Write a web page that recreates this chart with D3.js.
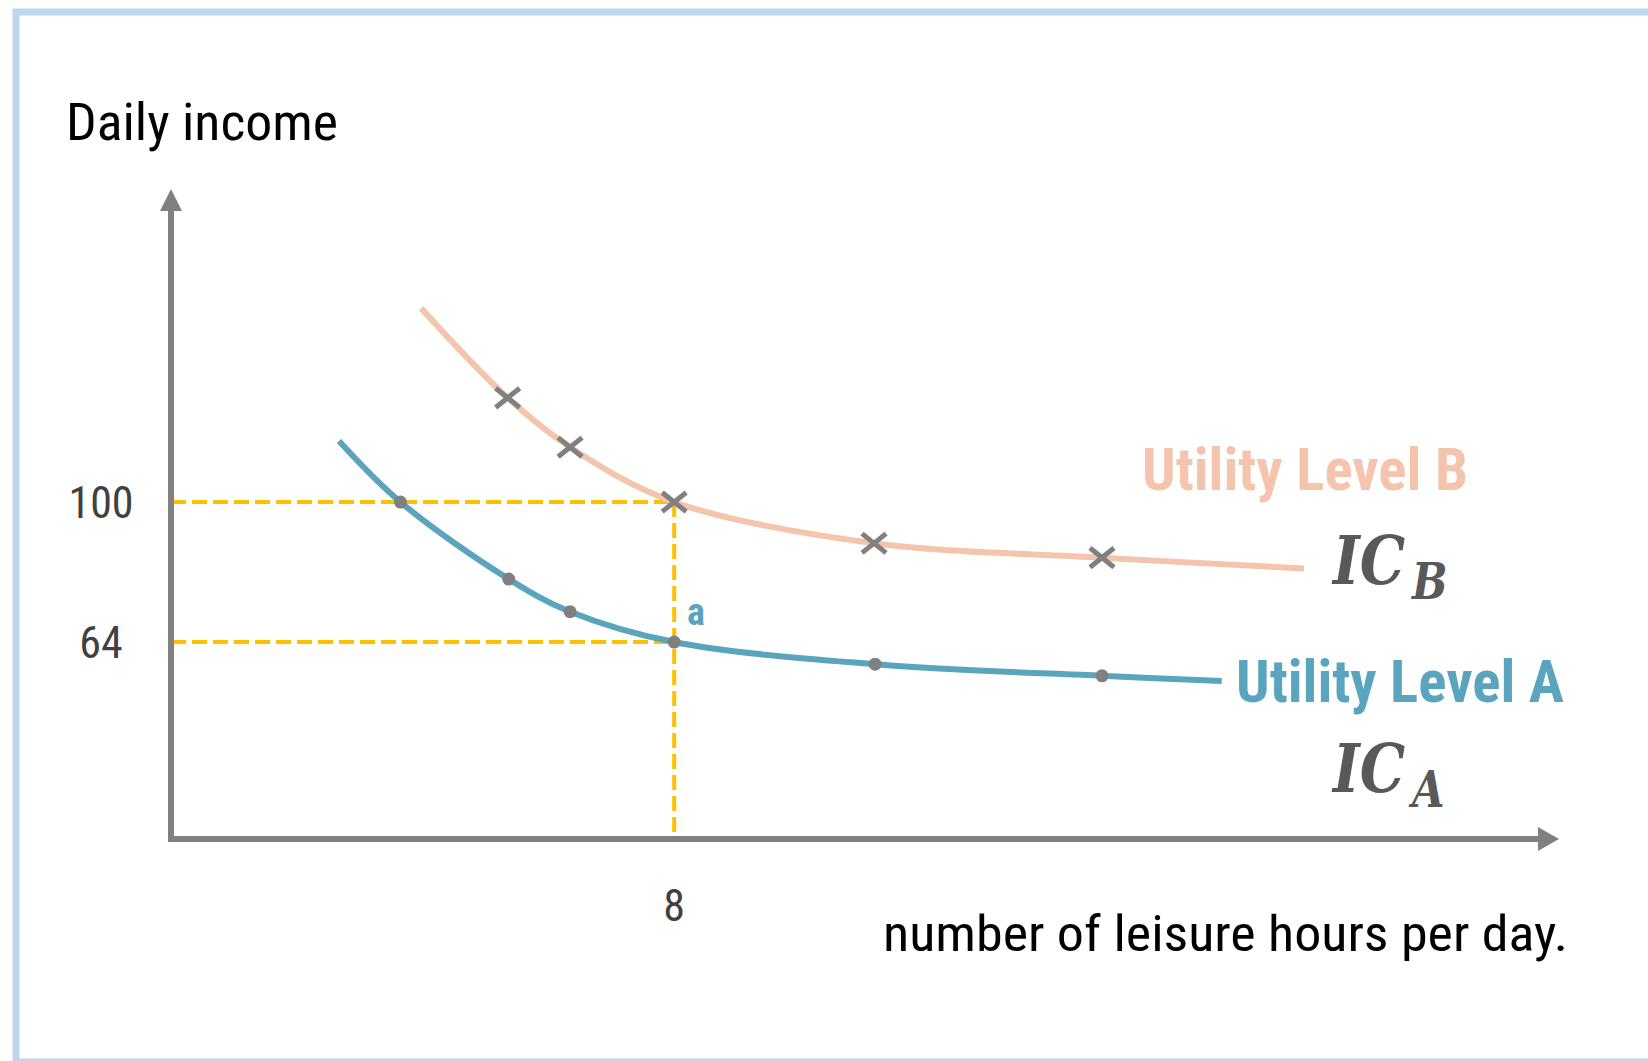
<!DOCTYPE html>
<html>
<head>
<meta charset="utf-8">
<script src="https://cdn.jsdelivr.net/npm/d3@7"></script>
<style>
  html, body { margin: 0; padding: 0; background: #ffffff; }
  svg { display: block; }
</style>
</head>
<body>
<svg id="chart" width="1648" height="1061"></svg>
<script>
// ---------- data ----------
const curveA = [[4.78,115.7],[5.37,100],[6.41,80.2],[7.0,71.8],[8,64],[9.93,58.3],[12.11,55.3],[13.26,54.0]];
const markersA = [[5.37,100],[6.41,80.2],[7.0,71.8],[8,64],[9.93,58.3],[12.11,55.3]];
const curveB = [[5.57,149.8],[6.40,126.8],[7.0,114.1],[8,100],[9.92,89.4],[12.11,85.7],[14.05,82.9]];
const markersB = [[6.40,126.8],[7.0,114.1],[8,100],[9.92,89.4],[12.11,85.7]];
const yTicks = [100, 64];
const xTicks = [8];
const pointA = [8, 64];
const pointB = [8, 100];

// ---------- layout ----------
const svg = d3.select("#chart");
const FONT = "'Liberation Sans Narrow','Roboto Condensed','DejaVu Sans Condensed',Roboto,sans-serif";
const x = d3.scaleLinear().domain([3.166, 16.5]).range([171, 1559]);
const y = d3.scaleLinear().domain([13.35, 180.5]).range([839, 189]);
const axisColor = "#808080";

// frame
svg.append("rect").attr("x", 16).attr("y", 12).attr("width", 1700).attr("height", 1050)
  .attr("fill", "none").attr("stroke", "#bdd7ee").attr("stroke-width", 7);

// dashed guides
const guide = svg.append("g").attr("stroke", "#ffc000").attr("stroke-width", 4)
  .attr("stroke-dasharray", "15,6").attr("fill", "none");
guide.append("line").attr("x1", x.range()[0]).attr("x2", x(pointB[0])).attr("y1", y(pointB[1])).attr("y2", y(pointB[1]));
guide.append("line").attr("x1", x.range()[0]).attr("x2", x(pointA[0])).attr("y1", y(pointA[1])).attr("y2", y(pointA[1]));
guide.append("line").attr("x1", x(pointB[0])).attr("x2", x(pointB[0])).attr("y1", y(pointB[1])).attr("y2", y.range()[0]);

// axes
const x0 = x.range()[0], y0 = y.range()[0];
svg.append("line").attr("x1", x0).attr("x2", x.range()[1] - 18).attr("y1", y0).attr("y2", y0)
  .attr("stroke", axisColor).attr("stroke-width", 6);
svg.append("line").attr("x1", x0).attr("x2", x0).attr("y1", y0 + 3).attr("y2", y.range()[1] + 18)
  .attr("stroke", axisColor).attr("stroke-width", 6);
svg.append("path").attr("fill", axisColor)
  .attr("d", `M${x.range()[1]},${y0} L${x.range()[1]-21},${y0-12} L${x.range()[1]-21},${y0+12} Z`);
svg.append("path").attr("fill", axisColor)
  .attr("d", `M${x0},${y.range()[1]} L${x0-11},${y.range()[1]+22} L${x0+11},${y.range()[1]+22} Z`);

// curves
const line = d3.line().x(d => x(d[0])).y(d => y(d[1])).curve(d3.curveCatmullRom.alpha(0.5));
svg.append("path").datum(curveB).attr("d", line).attr("fill", "none")
  .attr("stroke", "#f4c4ad").attr("stroke-width", 6);
svg.append("path").datum(curveA).attr("d", line).attr("fill", "none")
  .attr("stroke", "#5ba4bd").attr("stroke-width", 6);

// markers
svg.append("g").selectAll("circle").data(markersA).join("circle")
  .attr("cx", d => x(d[0])).attr("cy", d => y(d[1])).attr("r", 6.5).attr("fill", axisColor);
const s = 12;
svg.append("g").selectAll("path").data(markersB).join("path")
  .attr("d", d => { const cx = x(d[0]), cy = y(d[1]);
    return `M${cx-s},${cy-s*0.8} L${cx+s},${cy+s*0.8} M${cx-s},${cy+s*0.8} L${cx+s},${cy-s*0.8}`; })
  .attr("stroke", axisColor).attr("stroke-width", 5).attr("fill", "none");

// tick labels
svg.append("g").selectAll("text").data(yTicks).join("text")
  .attr("x", 101).attr("y", d => y(d) + 16).attr("text-anchor", "middle")
  .attr("font-family", FONT).attr("font-size", 44).attr("fill", "#404040").text(d => d);
svg.append("g").selectAll("text").data(xTicks).join("text")
  .attr("x", d => x(d)).attr("y", 921).attr("text-anchor", "middle")
  .attr("font-family", FONT).attr("font-size", 44).attr("fill", "#404040").text(d => d);

// axis titles
svg.append("text").attr("x", 66).attr("y", 140).attr("font-family", FONT).attr("font-size", 52)
  .attr("fill", "#000").attr("textLength", 272).attr("lengthAdjust", "spacingAndGlyphs").text("Daily income");
svg.append("text").attr("x", 883).attr("y", 951).attr("font-family", FONT).attr("font-size", 50)
  .attr("fill", "#000").attr("textLength", 685).attr("lengthAdjust", "spacingAndGlyphs").text("number of leisure hours per day.");

// point label
svg.append("text").attr("x", 687).attr("y", 625).attr("font-family", FONT).attr("font-size", 38)
  .attr("font-weight", "bold").attr("fill", "#5ba4bd").text("a");

// curve labels
svg.append("text").attr("x", 1142).attr("y", 490).attr("font-family", FONT).attr("font-size", 60)
  .attr("font-weight", "bold").attr("fill", "#f4c4ad").attr("textLength", 326).attr("lengthAdjust", "spacingAndGlyphs")
  .text("Utility Level B");
svg.append("text").attr("x", 1236).attr("y", 702).attr("font-family", FONT).attr("font-size", 60)
  .attr("font-weight", "bold").attr("fill", "#5ba4bd").attr("textLength", 328).attr("lengthAdjust", "spacingAndGlyphs")
  .text("Utility Level A");

const SERIF = "'DejaVu Serif','Liberation Serif',serif";
function icLabel(px, py, sub) {
  const t = svg.append("text").attr("transform", `translate(${px},${py}) scale(0.84,1)`)
    .attr("font-family", SERIF).attr("font-style", "italic").attr("font-weight", "bold")
    .attr("fill", "#595959").attr("font-size", 68);
  t.append("tspan").text("IC");
  t.append("tspan").attr("dx", 8).attr("dy", 15).attr("font-size", 50).text(sub);
}
icLabel(1333, 584, "B");
icLabel(1333, 792, "A");
</script>
</body>
</html>
